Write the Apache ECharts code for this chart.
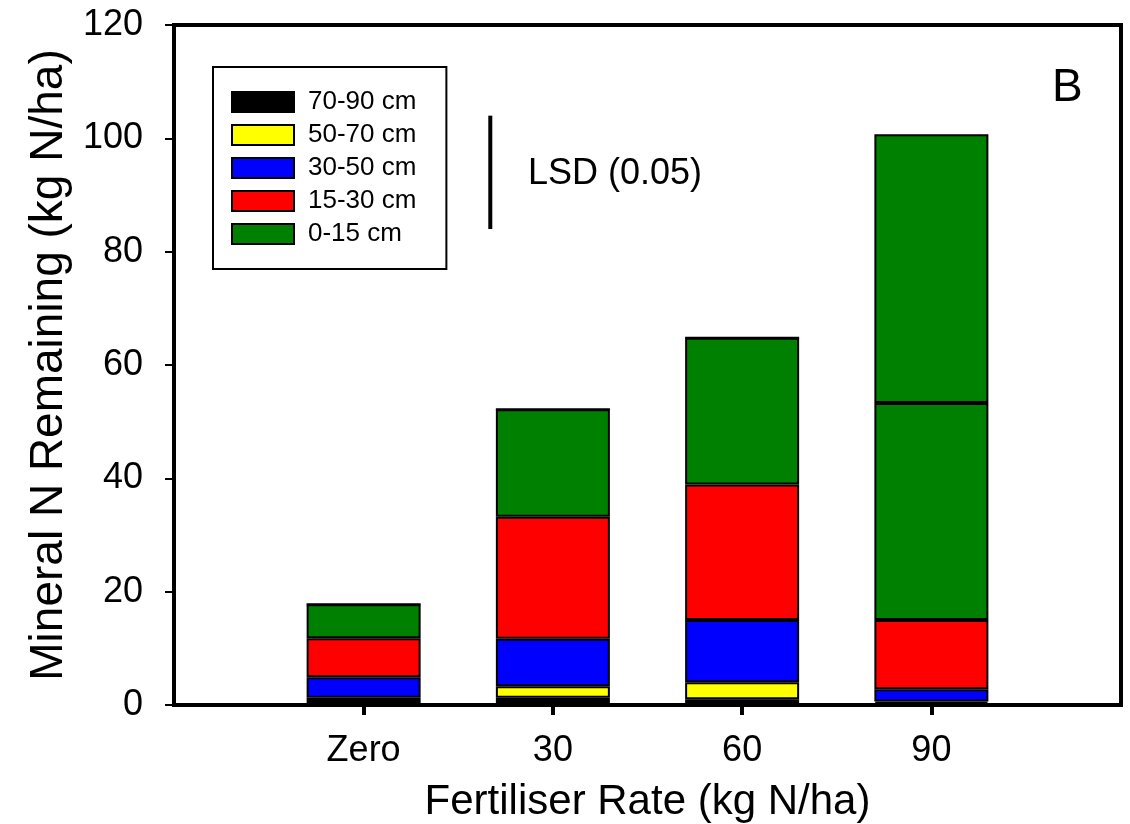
<!DOCTYPE html>
<html>
<head>
<meta charset="utf-8">
<script src="https://cdn.jsdelivr.net/npm/echarts@6/dist/echarts.min.js"></script>
<style>
  html, body { margin: 0; padding: 0; background: #fff; }
  #main { width: 1130px; height: 824px; }
</style>
</head>
<body>
<div id="main"></div>
<script>
// fertiliser rates
const categories = ['Zero', '30', '60', '90'];

// mineral N per soil layer, kg N/ha (bottom layer first)
const layer70to90 = [0.7, 1.3, 1.0, 0.3];
const layer50to70 = [0.6, 2.0, 3.0, 0.3];
const layer30to50 = [3.6, 8.4, 11.0, 2.2];
const layer15to30 = [6.9, 21.5, 23.9, 12.2];
const layer0to15 = [6.0, 19.0, 25.9, 38.3];
const layer0to15Extra = [0, 0, 0, 47.4]; // 90 bar shows a second 0-15 block

const yTicks = [0, 20, 40, 60, 80, 100, 120];

// LSD (0.05) bar, x in frame units (bars at 1..4 of 0..5)
const lsdX = 1.67;
const lsdRange = [84, 104];

const font = 'Liberation Sans, Arial, sans-serif';

function layer(name, color, vals) {
    return {
        name: name,
        type: 'bar',
        stack: 'n',
        xAxisIndex: 1,
        yAxisIndex: 1,
        barWidth: 114,
        data: vals,
        itemStyle: {
            color: color,
            borderColor: '#000',
            borderWidth: 2
        }
    };
}

const chart = echarts.init(document.getElementById('main'));

chart.setOption({
    animation: false,
    grid: [
        {   // outer frame
            left: 174,
            right: 9,
            top: 25,
            bottom: 119,
            outerBoundsMode: 'none',
            show: true,
            borderColor: '#000',
            borderWidth: 4
        },
        {   // bar area: four 189px slots centred in the frame
            left: 269,
            right: 104,
            top: 25,
            bottom: 119,
            outerBoundsMode: 'none'
        }
    ],
    legend: {
        orient: 'vertical',
        left: 213,
        top: 67,
        data: ['70-90 cm', '50-70 cm', '30-50 cm', '15-30 cm', '0-15 cm'],
        icon: 'rect',
        itemWidth: 62,
        itemHeight: 20,
        itemGap: 7,
        padding: [22, 30, 22, 18],
        borderColor: '#000',
        borderWidth: 2,
        selectedMode: false,
        textStyle: {
            fontFamily: font,
            fontSize: 26,
            color: '#000',
            padding: [0, 0, 0, 9]
        }
    },
    xAxis: [
        {
            gridIndex: 0,
            type: 'value',
            min: 0,
            max: 5,
            splitLine: { show: false },
            axisLine: { lineStyle: { color: '#000', width: 4 } },
            axisTick: { show: false },
            axisLabel: { show: false }
        },
        {
            gridIndex: 1,
            type: 'category',
            data: categories,
            name: 'Fertiliser Rate (kg N/ha)',
            nameLocation: 'middle',
            nameGap: 76,
            nameTextStyle: { fontFamily: font, fontSize: 42, color: '#000' },
            axisLine: { show: true, lineStyle: { color: '#000', width: 4 } },
            axisTick: {
                show: true,
                alignWithLabel: true,
                inside: false,
                length: 10,
                lineStyle: { color: '#000', width: 4 }
            },
            axisLabel: {
                margin: 28,
                fontFamily: font,
                fontSize: 36,
                color: '#000'
            }
        }
    ],
    yAxis: [
        {
            gridIndex: 0,
            type: 'value',
            min: 0,
            max: 120,
            interval: 20,
            name: 'Mineral N Remaining (kg N/ha)',
            nameLocation: 'middle',
            nameGap: 100,
            nameTextStyle: { fontFamily: font, fontSize: 46, color: '#000' },
            splitLine: { show: false },
            axisLine: { lineStyle: { color: '#000', width: 4 } },
            axisTick: {
                inside: false,
                length: 9,
                lineStyle: { color: '#000', width: 2 }
            },
            axisLabel: {
                formatter: v => (yTicks.indexOf(v) >= 0 ? String(v) : ''),
                margin: 31,
                fontFamily: font,
                fontSize: 36,
                color: '#000'
            }
        },
        {
            gridIndex: 1,
            type: 'value',
            min: 0,
            max: 120,
            show: false
        }
    ],
    series: [
        layer('70-90 cm', '#000000', layer70to90),
        layer('50-70 cm', '#ffff00', layer50to70),
        layer('30-50 cm', '#0000ff', layer30to50),
        layer('15-30 cm', '#ff0000', layer15to30),
        layer('0-15 cm', '#008000', layer0to15),
        layer('0-15 cm', '#008000', layer0to15Extra),
        {
            name: 'LSD',
            type: 'line',
            xAxisIndex: 0,
            yAxisIndex: 0,
            data: [[lsdX, lsdRange[0]], [lsdX, lsdRange[1]]],
            symbol: 'none',
            lineStyle: { color: '#000', width: 4 },
            silent: true
        }
    ],
    graphic: [
        {
            type: 'text',
            left: 528,
            top: 156,
            style: { text: 'LSD (0.05)', font: '36px ' + font, fill: '#000' }
        },
        {
            type: 'text',
            left: 1052,
            top: 65,
            style: { text: 'B', font: '46px ' + font, fill: '#000' }
        }
    ]
});
</script>
</body>
</html>
